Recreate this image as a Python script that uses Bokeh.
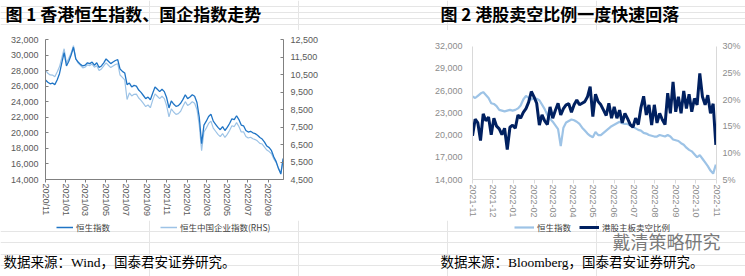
import pandas as pd
from bokeh.plotting import figure
from bokeh.models import (Range1d, LinearAxis, FixedTicker, NumeralTickFormatter,
                          PrintfTickFormatter, DatetimeTickFormatter, Legend, LegendItem, Label)
from bokeh.layouts import row, column
from bokeh.embed import file_html
from bokeh.resources import INLINE

# ---------------- Chart 1 data (weekly samples) ----------------
c1_start = "2020-11-01"
hsi_1 = [26800, 26500, 26300, 26400, 26200, 26800, 27600, 29000, 30300, 28600,
         29200, 30000, 31000, 29500, 29100, 28800, 28600, 28700, 29000, 28900,
         29100, 28700, 29000, 28400, 28600, 29000, 29500, 29200, 28900, 29100,
         29300, 29400, 28200, 27900, 27700, 26200, 26400, 25900, 26100, 26000,
         25500, 25200, 24800, 24400, 24600, 24250, 25100, 25900, 25600, 25300,
         25600, 25300, 24500, 23200, 24100, 23700, 23400, 23500, 23800, 24300,
         24900, 24400, 24600, 24900, 24700, 23900, 22000, 18600, 21000, 21500,
         22100, 22400, 21500, 21100, 20700, 20400, 20800, 20300, 20700, 21200,
         21800, 21700, 22200, 21700, 21000, 20900, 20300, 20100, 20200, 20000,
         19900, 19700, 19400, 19200, 18800, 18300, 18100, 17700, 16900, 16300,
         15400, 14700, 16700]
hscei_1 = [10755, 10565, 10476, 10465, 10376, 10642, 10941, 11450, 11971, 11158,
           11425, 11723, 12150, 11388, 11153, 11020, 10875, 10920, 11053, 11009,
           11097, 10920, 10996, 10730, 10818, 10996, 11161, 11028, 10895, 10983,
           11072, 11117, 10470, 10337, 10191, 9071, 9444, 9278, 9367, 9379,
           9157, 9023, 8846, 8668, 8757, 8601, 9036, 9391, 9258, 9125,
           9258, 9125, 8712, 8077, 8534, 8357, 8223, 8268, 8401, 8680,
           8947, 8725, 8814, 8947, 8858, 8503, 7601, 6150, 7214, 7436,
           7703, 7836, 7436, 7258, 7080, 6947, 7125, 6903, 7080, 7303,
           7569, 7525, 7747, 7525, 7214, 7226, 6960, 6871, 6915, 6826,
           6782, 6693, 6560, 6527, 6349, 6184, 6095, 5974, 5676, 5465,
           5122, 4868, 5700]
c1_dates = pd.date_range(c1_start, periods=len(hsi_1), freq="7D")
c1_x_end = "2022-10-17"
c1_xticks = pd.date_range("2020-11-01", "2022-09-01", freq="2MS")
c1_left_ticks = [14000, 16000, 18000, 20000, 22000, 24000, 26000, 28000, 30000, 32000]
c1_right_ticks = [4500, 5500, 6500, 7500, 8500, 9500, 10500, 11500, 12500]

# ---------------- Chart 2 data (4-day samples) ----------------
c2_start = "2021-11-01"
hsi_2 = [25200, 25000, 25300, 25600, 25800, 25400, 25000, 24300, 24200, 23900,
         23400, 23300, 23200, 23300, 23400, 23300, 23400, 23600, 24000, 24800,
         25300, 25000, 24800, 25000, 24900, 24700, 24100, 23500, 22700, 22200,
         21800, 21300, 20800, 18500, 21000, 21700, 21900, 22100, 22000, 21800,
         21500, 21000, 20600, 20200, 19900, 19700, 20400, 20000, 20000, 20300,
         20600, 20900, 21200, 21400, 21600, 21800, 21600, 21500, 21500, 21300,
         21100, 20900, 20700, 20600, 20300, 20200, 20000, 19900, 19800, 19800,
         20000, 19900, 19800, 20000, 19800, 19400, 19300, 19200, 18900, 18700,
         18300, 18000, 17800, 17400, 17000, 17300, 16800, 16300, 15800, 15200,
         14800, 16000]
short_ratio = [13.2, 16.3, 15.6, 12.3, 17.3, 16.0, 16.7, 13.4, 16.5, 15.0,
               14.5, 13.4, 14.6, 10.6, 14.8, 15.2, 14.6, 17.1, 16.5, 17.6,
               18.3, 19.5, 21.5, 20.5, 19.3, 15.2, 17.1, 16.0, 15.3, 18.6,
               16.5, 18.0, 19.3, 17.1, 18.3, 19.0, 19.2, 17.6, 19.0, 19.9,
               19.0, 19.3, 19.6, 20.5, 22.4, 16.8, 21.0, 19.6, 19.0, 18.0,
               17.0, 19.3, 16.5, 18.6, 16.5, 18.0, 15.6, 17.4, 16.4, 15.3,
               14.8, 16.5, 15.3, 18.5, 20.6, 17.1, 19.0, 15.2, 19.0, 15.6,
               17.4, 16.2, 15.3, 21.2, 17.4, 23.3, 17.7, 20.5, 17.4, 21.6,
               18.3, 21.0, 17.7, 20.2, 19.0, 24.9, 20.5, 19.0, 20.8, 17.4,
               19.2, 11.5]
c2_dates = pd.date_range(c2_start, periods=len(hsi_2), freq="4D")
c2_x_end = "2022-11-01"
c2_xticks = pd.date_range("2021-11-01", "2022-11-01", freq="MS")
c2_left_ticks = [14000, 17000, 20000, 23000, 26000, 29000, 32000]
c2_right_ticks = [5, 10, 15, 20, 25, 30]

title_1 = "图 1 香港恒生指数、国企指数走势"
title_2 = "图 2 港股卖空比例一度快速回落"
source_1 = "数据来源：Wind，国泰君安证券研究。"
source_2 = "数据来源：Bloomberg，国泰君安证券研究。"
legend_1 = ["恒生指数", "恒生中国企业指数(RHS)"]
legend_2 = ["恒生指数", "港股主板卖空比例"]
watermark = "戴清策略研究"

# colours / styles
C_HSI1, C_CEI1 = "#1F74C5", "#9DC3E6"
C_HSI2, C_SHORT = "#9DC3E6", "#002060"
W_HSI1, W_CEI1, W_HSI2, W_SHORT = 1.3, 1.2, 2.2, 3

SANS = "Liberation Sans"
CJK = "Noto Sans CJK SC"
SERIF_MIX = "'Liberation Serif', 'Noto Sans CJK SC'"

W = 745
TOP_H = 30
CHART_H = 190
BOT_H = 56


def ms(ts):
    return [t.value / 1e6 for t in ts]


def style_axis(ax, color, line_color, tick_in, tick_out, standoff):
    ax.major_label_text_font = SANS
    ax.major_label_text_font_size = "9px"
    ax.major_label_text_color = color
    ax.axis_line_color = line_color
    ax.major_tick_line_color = line_color
    ax.major_tick_in = tick_in
    ax.major_tick_out = tick_out
    ax.minor_tick_line_color = None
    ax.major_label_standoff = standoff


def base_fig(ml, fw, mr, x0, x1, y0, y1):
    p = figure(width=ml + fw + mr, height=CHART_H, min_border_left=ml, min_border_right=mr,
               min_border_top=9, min_border_bottom=CHART_H - 9 - 141, x_axis_type="datetime",
               x_range=Range1d(pd.Timestamp(x0), pd.Timestamp(x1)),
               y_range=Range1d(y0, y1), output_backend="svg", toolbar_location=None)
    p.xgrid.grid_line_color = None
    p.ygrid.grid_line_color = None
    p.outline_line_color = None
    p.background_fill_color = "white"
    p.border_fill_color = "white"
    return p


def text_strip(h):
    s = figure(width=W, height=h, min_border=0, x_axis_location=None,
               y_axis_location=None, output_backend="svg", toolbar_location=None,
               x_range=Range1d(0, 1), y_range=Range1d(0, 1))
    s.outline_line_color = None
    s.background_fill_color = "white"
    s.border_fill_color = "white"
    return s


def add_text(s, h, x, y_mid, text, font, size, color="#000000", bold=False):
    # x, y_mid measured from the strip's top-left corner
    s.add_layout(Label(x=x, y=h - y_mid, x_units="screen", y_units="screen", text=text,
                       text_font=font, text_font_size=size, text_color=color,
                       text_font_style="bold" if bold else "normal",
                       text_baseline="middle", text_align="left"))


def add_key(s, h, x, y_top, label, xs, ys, color, width, gw):
    # legend key: the series is drawn again in the strip, where it falls outside the strip's
    # 0..1 view, so only its legend swatch shows (keeps the key below the plot area)
    r = s.line(x=xs, y=ys, line_color=color, line_width=width)
    leg = Legend(items=[LegendItem(label=label, renderers=[r])], location=(x, h - y_top - 12),
                 orientation="horizontal", background_fill_alpha=0, border_line_color=None,
                 padding=0, margin=0, glyph_width=gw, glyph_height=12, label_height=12,
                 label_standoff=3, label_text_font=CJK, label_text_font_size="8.5px",
                 label_text_color="#404040")
    s.add_layout(leg)


# ---------------- Titles strip ----------------
top = text_strip(TOP_H)
add_text(top, TOP_H, 5, 12.5, title_1, CJK, "17px", bold=True)
add_text(top, TOP_H, 440, 12.5, title_2, CJK, "17px", bold=True)

# ---------------- Figure 1 ----------------
p1 = base_fig(45, 238, 89, c1_start, c1_x_end, 14000, 32000)
p1.extra_y_ranges = {"rhs": Range1d(4500, 12500)}
p1.add_layout(LinearAxis(y_range_name="rhs"), "right")

for ax in p1.yaxis:
    style_axis(ax, "#595959", "#808080", 3, 0, 7)
p1.yaxis[0].ticker = FixedTicker(ticks=c1_left_ticks)
p1.yaxis[0].formatter = NumeralTickFormatter(format="0,0")
p1.yaxis[1].ticker = FixedTicker(ticks=c1_right_ticks)
p1.yaxis[1].formatter = NumeralTickFormatter(format="0,0")

style_axis(p1.xaxis[0], "#595959", "#808080", 0, 3, 1)
p1.xaxis[0].ticker = FixedTicker(ticks=ms(c1_xticks))
p1.xaxis[0].formatter = DatetimeTickFormatter(days="%Y/%m", months="%Y/%m", years="%Y/%m")
p1.xaxis[0].major_label_orientation = "vertical"

p1.line(c1_dates, hscei_1, y_range_name="rhs", line_color=C_CEI1, line_width=W_CEI1)
p1.line(c1_dates, hsi_1, line_color=C_HSI1, line_width=W_HSI1)

# ---------------- Figure 2 ----------------
p2 = base_fig(100, 244, 29, c2_start, c2_x_end, 14000, 32900)
p2.extra_y_ranges = {"rhs": Range1d(5, 31.25)}
p2.add_layout(LinearAxis(y_range_name="rhs"), "right")

style_axis(p2.yaxis[0], "#8C8C8C", "#D9D9D9", 0, 0, 10)
style_axis(p2.yaxis[1], "#8C8C8C", "#D9D9D9", 0, 0, 6)
p2.yaxis[0].ticker = FixedTicker(ticks=c2_left_ticks)
p2.yaxis[0].formatter = NumeralTickFormatter(format="0,0")
p2.yaxis[0].bounds = (14000, 32000)
p2.yaxis[1].ticker = FixedTicker(ticks=c2_right_ticks)
p2.yaxis[1].formatter = PrintfTickFormatter(format="%d%%")
p2.yaxis[1].bounds = (5, 30)

style_axis(p2.xaxis[0], "#8C8C8C", "#D9D9D9", 0, 4, 1)
p2.xaxis[0].ticker = FixedTicker(ticks=ms(c2_xticks))
p2.xaxis[0].formatter = DatetimeTickFormatter(days="%Y-%m", months="%Y-%m", years="%Y-%m")
p2.xaxis[0].major_label_orientation = "vertical"

p2.line(c2_dates, hsi_2, line_color=C_HSI2, line_width=W_HSI2)
p2.line(c2_dates, short_ratio, y_range_name="rhs", line_color=C_SHORT, line_width=W_SHORT)

# ---------------- Legend / sources strip ----------------
bot = text_strip(BOT_H)
Y0 = TOP_H + CHART_H  # page y of the strip's top edge
add_key(bot, BOT_H, 56, 221 - Y0, legend_1[0], c1_dates, hsi_1, C_HSI1, 1.5, 17)
add_key(bot, BOT_H, 160, 221 - Y0, legend_1[1], c1_dates, hscei_1, C_CEI1, 1.5, 17)
add_key(bot, BOT_H, 514, 221 - Y0, legend_2[0], c2_dates, hsi_2, C_HSI2, W_HSI2, 20)
add_key(bot, BOT_H, 579, 221 - Y0, legend_2[1], c2_dates, short_ratio, C_SHORT, W_SHORT, 20)
add_text(bot, BOT_H, 612, 240 - Y0, watermark, CJK, "18px", color="#7A7A7A")
add_text(bot, BOT_H, 3, 262 - Y0, source_1, SERIF_MIX, "13.5px")
add_text(bot, BOT_H, 440, 262 - Y0, source_2, SERIF_MIX, "13.5px")

layout = column(top, row(p1, p2), bot)
open("out.html", "w").write(file_html(layout, INLINE))
